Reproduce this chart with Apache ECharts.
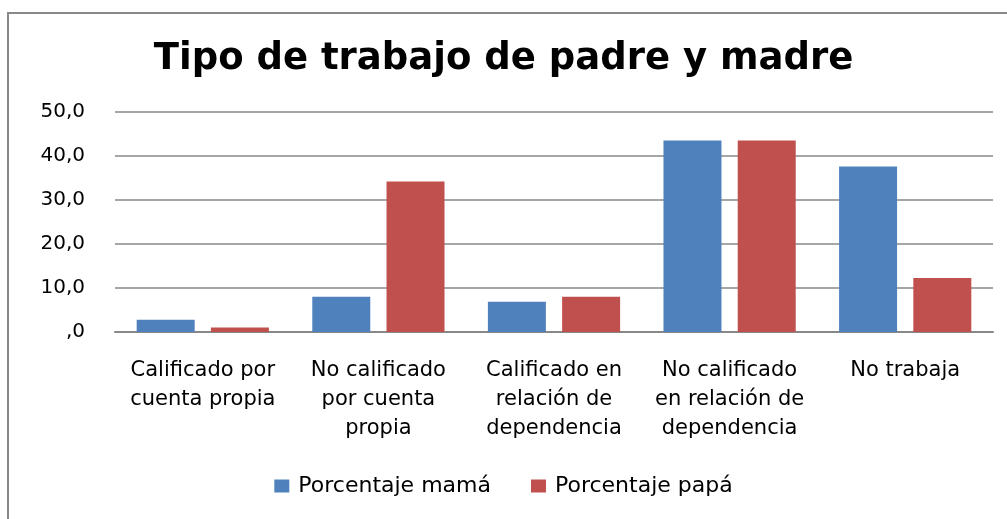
<!DOCTYPE html>
<html>
<head>
<meta charset="utf-8">
<script src="https://cdn.jsdelivr.net/npm/echarts@6/dist/echarts.min.js"></script>
<style>
  html, body { margin: 0; padding: 0; background: #fff; }
  #chart { width: 1007px; height: 519px; }
</style>
</head>
<body>
<div id="chart"></div>
<script>
// chart data
const categories = [
  'Calificado por\ncuenta propia',
  'No calificado\npor cuenta\npropia',
  'Calificado en\nrelación de\ndependencia',
  'No calificado\nen relación de\ndependencia',
  'No trabaja'
];
const mamaValues = [2.8, 8.0, 6.9, 43.5, 37.6];
const papaValues = [1.0, 34.2, 8.0, 43.5, 12.3];
const seriesNames = ['Porcentaje mamá', 'Porcentaje papá'];
const yTicks = [0, 10, 20, 30, 40, 50];

const fontFamily = 'DejaVu Sans';
const gridLineColor = '#888888';

const chart = echarts.init(document.getElementById('chart'));

const option = {
  backgroundColor: '#ffffff',
  animation: false,
  title: {
    text: 'Tipo de trabajo de padre y madre',
    left: 'center',
    top: 36,
    textStyle: {
      fontFamily: fontFamily,
      fontWeight: 'bold',
      fontSize: 37,
      color: '#000000'
    }
  },
  graphic: [
    {
      type: 'rect',
      shape: { x: 8, y: 13, width: 1100, height: 600 },
      style: { fill: null, stroke: '#888888', lineWidth: 2 },
      silent: true
    }
  ],
  legend: {
    data: seriesNames,
    bottom: 17,
    left: 'center',
    icon: 'rect',
    itemWidth: 15,
    itemHeight: 13,
    itemGap: 40,
    textStyle: {
      fontFamily: fontFamily,
      fontSize: 22,
      color: '#000000',
      padding: [0, 0, 0, 4]
    }
  },
  grid: {
    left: 115,
    right: 14,
    top: 112,
    bottom: 187
  },
  xAxis: {
    type: 'category',
    data: categories,
    axisTick: { show: false },
    axisLine: { show: true, lineStyle: { color: gridLineColor, width: 2 } },
    axisLabel: {
      interval: 0,
      margin: 24,
      lineHeight: 29,
      color: '#000000',
      fontFamily: fontFamily,
      fontSize: 21
    }
  },
  yAxis: {
    type: 'value',
    min: yTicks[0],
    max: yTicks[yTicks.length - 1],
    interval: yTicks[1] - yTicks[0],
    axisLine: { show: false },
    axisTick: { show: false },
    splitLine: {
      show: true,
      lineStyle: { color: gridLineColor, width: 1.5 }
    },
    axisLabel: {
      margin: 30,
      color: '#000000',
      fontFamily: fontFamily,
      fontSize: 20,
      formatter: function (v) {
        return v === 0 ? ',0' : v.toFixed(1).replace('.', ',');
      }
    }
  },
  series: [
    {
      name: seriesNames[0],
      type: 'bar',
      data: mamaValues,
      barWidth: 58,
      barGap: '28%',
      itemStyle: { color: '#4F81BD' }
    },
    {
      name: seriesNames[1],
      type: 'bar',
      data: papaValues,
      barWidth: 58,
      barGap: '28%',
      itemStyle: { color: '#C0504D' }
    }
  ]
};

chart.setOption(option);
</script>
</body>
</html>
